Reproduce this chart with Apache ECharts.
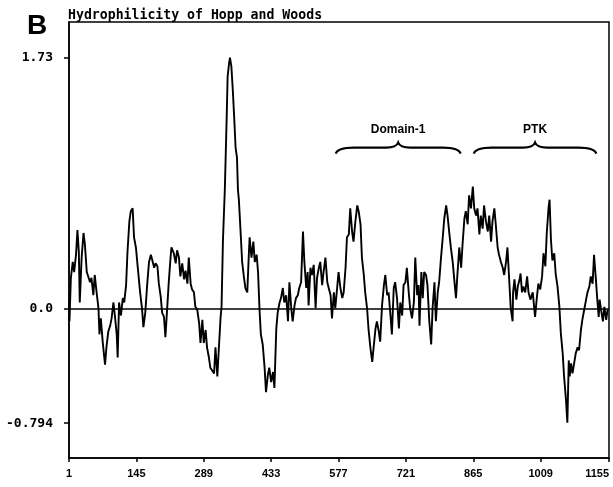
<!DOCTYPE html>
<html>
<head>
<meta charset="utf-8">
<script src="https://cdn.jsdelivr.net/npm/echarts@6/dist/echarts.min.js"></script>
<style>
  html, body { margin: 0; padding: 0; background: #fff; }
  #chart { width: 613px; height: 487px; }
</style>
</head>
<body>
<div id="chart"></div>
<script>
// residue positions and Hopp & Woods hydrophilicity
const residues = [
  1, 2, 5, 9, 12, 16, 19, 22, 24, 28,
  32, 35, 39, 42, 46, 49, 53, 56, 60, 64,
  66, 69, 73, 78, 81, 85, 89, 92, 96, 99,
  103, 105, 108, 112, 116, 119, 123, 126, 130, 133,
  137, 140, 144, 148, 153, 157, 160, 164, 168, 172,
  176, 180, 183, 186, 190, 193, 197, 200, 204, 207,
  211, 214, 218, 220, 225, 229, 232, 236, 239, 243,
  247, 250, 254, 257, 261, 264, 268, 271, 275, 279,
  282, 286, 289, 293, 296, 300, 303, 307, 311, 314,
  318, 321, 325, 327, 330, 334, 338, 340, 343, 345,
  348, 351, 354, 357, 360, 362, 364, 368, 371, 375,
  378, 382, 385, 387, 391, 395, 398, 402, 405, 408,
  411, 415, 419, 422, 426, 429, 433, 437, 440, 444,
  447, 451, 454, 458, 461, 465, 469, 472, 476, 479,
  483, 486, 490, 493, 497, 501, 504, 508, 511, 513,
  517, 520, 524, 528, 531, 535, 538, 542, 545, 549,
  553, 556, 560, 563, 567, 570, 574, 577, 581, 585,
  588, 592, 595, 599, 602, 606, 609, 613, 617, 620,
  624, 627, 631, 634, 638, 641, 645, 649, 652, 656,
  659, 663, 666, 670, 674, 677, 681, 684, 688, 691,
  695, 698, 702, 706, 709, 713, 716, 720, 723, 727,
  730, 734, 738, 741, 745, 748, 750, 754, 757, 760,
  764, 767, 771, 775, 778, 782, 785, 789, 792, 796,
  799, 803, 807, 810, 814, 817, 821, 824, 828, 831,
  835, 839, 842, 846, 849, 853, 856, 860, 864, 867,
  871, 874, 878, 881, 885, 888, 892, 896, 899, 903,
  906, 910, 913, 917, 920, 924, 928, 931, 935, 938,
  942, 945, 949, 950, 953, 957, 960, 964, 966, 969,
  972, 976, 980, 983, 987, 992, 995, 997, 1001, 1004,
  1008, 1012, 1015, 1019, 1022, 1026, 1028, 1031, 1034, 1038,
  1041, 1045, 1049, 1052, 1056, 1059, 1063, 1066, 1069, 1071,
  1074, 1077, 1081, 1084, 1088, 1091, 1095, 1098, 1102, 1106,
  1109, 1113, 1116, 1120, 1123, 1127, 1130, 1133, 1135, 1138,
  1142, 1145, 1149, 1152
];
const hydrophilicity = [
  0.06, -0.09, 0.21, 0.32, 0.25, 0.37, 0.54, 0.39, 0.04, 0.35,
  0.52, 0.44, 0.25, 0.26, 0.18, 0.21, 0.09, 0.23, 0.11, 0.00,
  -0.18, -0.07, -0.23, -0.39, -0.27, -0.16, -0.12, -0.07, 0.04, -0.05,
  -0.18, -0.34, 0.04, -0.05, 0.07, 0.04, 0.16, 0.39, 0.60, 0.67,
  0.69, 0.49, 0.42, 0.28, 0.11, 0.00, -0.13, -0.03, 0.16, 0.32,
  0.37, 0.32, 0.28, 0.31, 0.29, 0.17, 0.08, -0.03, -0.06, -0.20,
  0.01, 0.17, 0.35, 0.42, 0.38, 0.31, 0.40, 0.35, 0.22, 0.31,
  0.20, 0.26, 0.17, 0.35, 0.17, 0.13, 0.11, 0.01, -0.01, -0.10,
  -0.24, -0.08, -0.24, -0.15, -0.27, -0.34, -0.41, -0.43, -0.45, -0.27,
  -0.47, -0.29, -0.06, 0.01, 0.47, 0.82, 1.32, 1.60, 1.69, 1.73,
  1.67, 1.51, 1.32, 1.11, 1.04, 0.82, 0.75, 0.51, 0.32, 0.21,
  0.14, 0.11, 0.35, 0.49, 0.35, 0.46, 0.32, 0.37, 0.25, 0.00,
  -0.18, -0.25, -0.41, -0.58, -0.46, -0.41, -0.51, -0.44, -0.55, -0.14,
  -0.03, 0.04, 0.07, 0.14, 0.04, 0.09, -0.09, 0.18, 0.00, -0.09,
  0.02, 0.07, 0.09, 0.14, 0.18, 0.53, 0.32, 0.14, 0.25, 0.02,
  0.28, 0.23, 0.30, 0.00, 0.21, 0.28, 0.32, 0.16, 0.25, 0.35,
  0.18, 0.14, 0.09, -0.07, 0.11, 0.00, 0.14, 0.25, 0.14, 0.07,
  0.11, 0.28, 0.49, 0.51, 0.69, 0.53, 0.46, 0.60, 0.71, 0.67,
  0.58, 0.35, 0.23, 0.11, 0.00, -0.14, -0.27, -0.37, -0.27, -0.14,
  -0.09, -0.16, -0.23, 0.02, 0.16, 0.23, 0.09, 0.11, -0.05, -0.18,
  0.14, 0.18, 0.07, -0.14, 0.04, -0.05, 0.16, 0.18, 0.28, 0.11,
  0.00, -0.07, 0.04, 0.35, 0.09, 0.16, -0.12, 0.25, 0.07, 0.25,
  0.23, 0.16, -0.09, -0.25, 0.00, 0.18, -0.09, 0.11, 0.18, 0.35,
  0.46, 0.62, 0.71, 0.64, 0.51, 0.42, 0.32, 0.21, 0.07, 0.23,
  0.42, 0.28, 0.44, 0.62, 0.67, 0.58, 0.78, 0.69, 0.84, 0.69,
  0.64, 0.69, 0.51, 0.64, 0.55, 0.71, 0.60, 0.53, 0.64, 0.46,
  0.60, 0.69, 0.58, 0.42, 0.37, 0.32, 0.28, 0.23, 0.32, 0.42,
  0.18, 0.00, -0.09, 0.11, 0.20, 0.06, 0.15, 0.20, 0.24, 0.11,
  0.15, 0.11, 0.22, 0.11, 0.06, 0.11, 0.01, -0.06, 0.08, 0.17,
  0.13, 0.22, 0.38, 0.29, 0.52, 0.70, 0.75, 0.47, 0.33, 0.38,
  0.24, 0.15, 0.01, -0.17, -0.31, -0.47, -0.63, -0.79, -0.36, -0.47,
  -0.38, -0.45, -0.37, -0.31, -0.27, -0.29, -0.15, -0.08, -0.01, 0.06,
  0.11, 0.15, 0.22, 0.17, 0.37, 0.20, 0.06, -0.06, 0.06, -0.01,
  -0.09, 0.01, -0.08, -0.01
];

const xTicks = [1, 145, 289, 433, 577, 721, 865, 1009, 1155];
const yTicks = [-0.794, 0, 1.73];
const yTickLabels = ['-0.794', '0.0', '1.73'];

// annotated regions (residue ranges under the braces)
const domainNames = ['Domain-1', 'PTK'];
const domainStart = [571, 866];
const domainEnd = [838, 1128];

const chart = echarts.init(document.getElementById('chart'));

const BRACE_LEVEL = 1.11;
const LABEL_LEVEL = 1.23;

function renderBrace(params, api) {
  const a = api.coord([api.value(0), BRACE_LEVEL]);
  const b = api.coord([api.value(1), BRACE_LEVEL]);
  const t = api.coord([api.value(0), LABEL_LEVEL]);
  const x0 = a[0], x1 = b[0], y = a[1];
  const xm = (x0 + x1) / 2;
  const d = 'M' + x0 + ' ' + (y + 6) +
    ' Q' + (x0 + 2) + ' ' + y + ' ' + (x0 + 18) + ' ' + y +
    ' L' + (xm - 12) + ' ' + y +
    ' Q' + (xm - 2) + ' ' + y + ' ' + xm + ' ' + (y - 5) +
    ' Q' + (xm + 2) + ' ' + y + ' ' + (xm + 12) + ' ' + y +
    ' L' + (x1 - 18) + ' ' + y +
    ' Q' + (x1 - 2) + ' ' + y + ' ' + x1 + ' ' + (y + 6);
  return {
    type: 'group',
    children: [
      {
        type: 'path',
        shape: { pathData: d },
        style: { stroke: '#000', fill: null, lineWidth: 2.2 }
      },
      {
        type: 'text',
        x: xm,
        y: t[1],
        style: {
          text: domainNames[params.dataIndex],
          align: 'center',
          verticalAlign: 'middle',
          fill: '#000',
          font: 'bold 12px "Liberation Sans", Arial, sans-serif'
        }
      }
    ]
  };
}

const option = {
  backgroundColor: '#fff',
  animation: false,
  title: [
    {
      text: 'B',
      left: 27,
      top: 12,
      padding: 0,
      textStyle: { fontFamily: '"Liberation Sans", Arial, sans-serif', fontWeight: 'bold', fontSize: 28, color: '#000' }
    },
    {
      text: 'Hydrophilicity of Hopp and Woods',
      left: 68,
      top: 9,
      padding: 0,
      textStyle: { fontFamily: '"DejaVu Sans Mono", monospace', fontWeight: 'bold', fontSize: 13.2, color: '#000' }
    }
  ],
  grid: {
    left: 69, right: 4, top: 22, bottom: 29,
    outerBoundsMode: 'none',
    containLabel: false,
    show: true, borderColor: '#000', borderWidth: 1.5
  },
  xAxis: {
    type: 'value',
    min: 1,
    max: 1155,
    axisLine: { show: true, onZero: false, lineStyle: { color: '#000', width: 1.5 } },
    axisTick: { show: true, customValues: xTicks, length: 4, lineStyle: { color: '#000', width: 1.5 } },
    axisLabel: {
      customValues: xTicks,
      margin: 10,
      alignMaxLabel: 'right',
      color: '#000',
      fontFamily: '"Liberation Sans", Arial, sans-serif',
      fontWeight: 'bold',
      fontSize: 11,
      formatter: v => String(v)
    },
    splitLine: { show: false }
  },
  yAxis: {
    type: 'value',
    min: -1.034,
    max: 1.977,
    axisLine: { show: true, lineStyle: { color: '#000', width: 1.5 } },
    axisTick: { show: true, customValues: yTicks, length: 5, lineStyle: { color: '#000', width: 1.5 } },
    axisLabel: {
      customValues: yTicks,
      margin: 16,
      padding: [0, 0, 10, 0],
      color: '#000',
      fontFamily: '"DejaVu Sans Mono", monospace',
      fontWeight: 'bold',
      fontSize: 13,
      formatter: v => {
        const i = yTicks.findIndex(t => Math.abs(t - v) < 1e-6);
        return i >= 0 ? yTickLabels[i] : '';
      }
    },
    splitLine: { show: false }
  },
  series: [
    {
      type: 'line',
      data: residues.map((r, i) => [r, hydrophilicity[i]]),
      showSymbol: false,
      lineStyle: { color: '#000', width: 1.9 },
      z: 3,
      markLine: {
        silent: true,
        symbol: 'none',
        label: { show: false },
        lineStyle: { color: '#000', width: 1.5, type: 'solid' },
        data: [{ yAxis: 0 }]
      }
    },
    {
      type: 'custom',
      renderItem: renderBrace,
      encode: { x: [0, 1] },
      clip: false,
      data: domainStart.map((s, i) => [s, domainEnd[i]])
    }
  ]
};

chart.setOption(option);
</script>
</body>
</html>
